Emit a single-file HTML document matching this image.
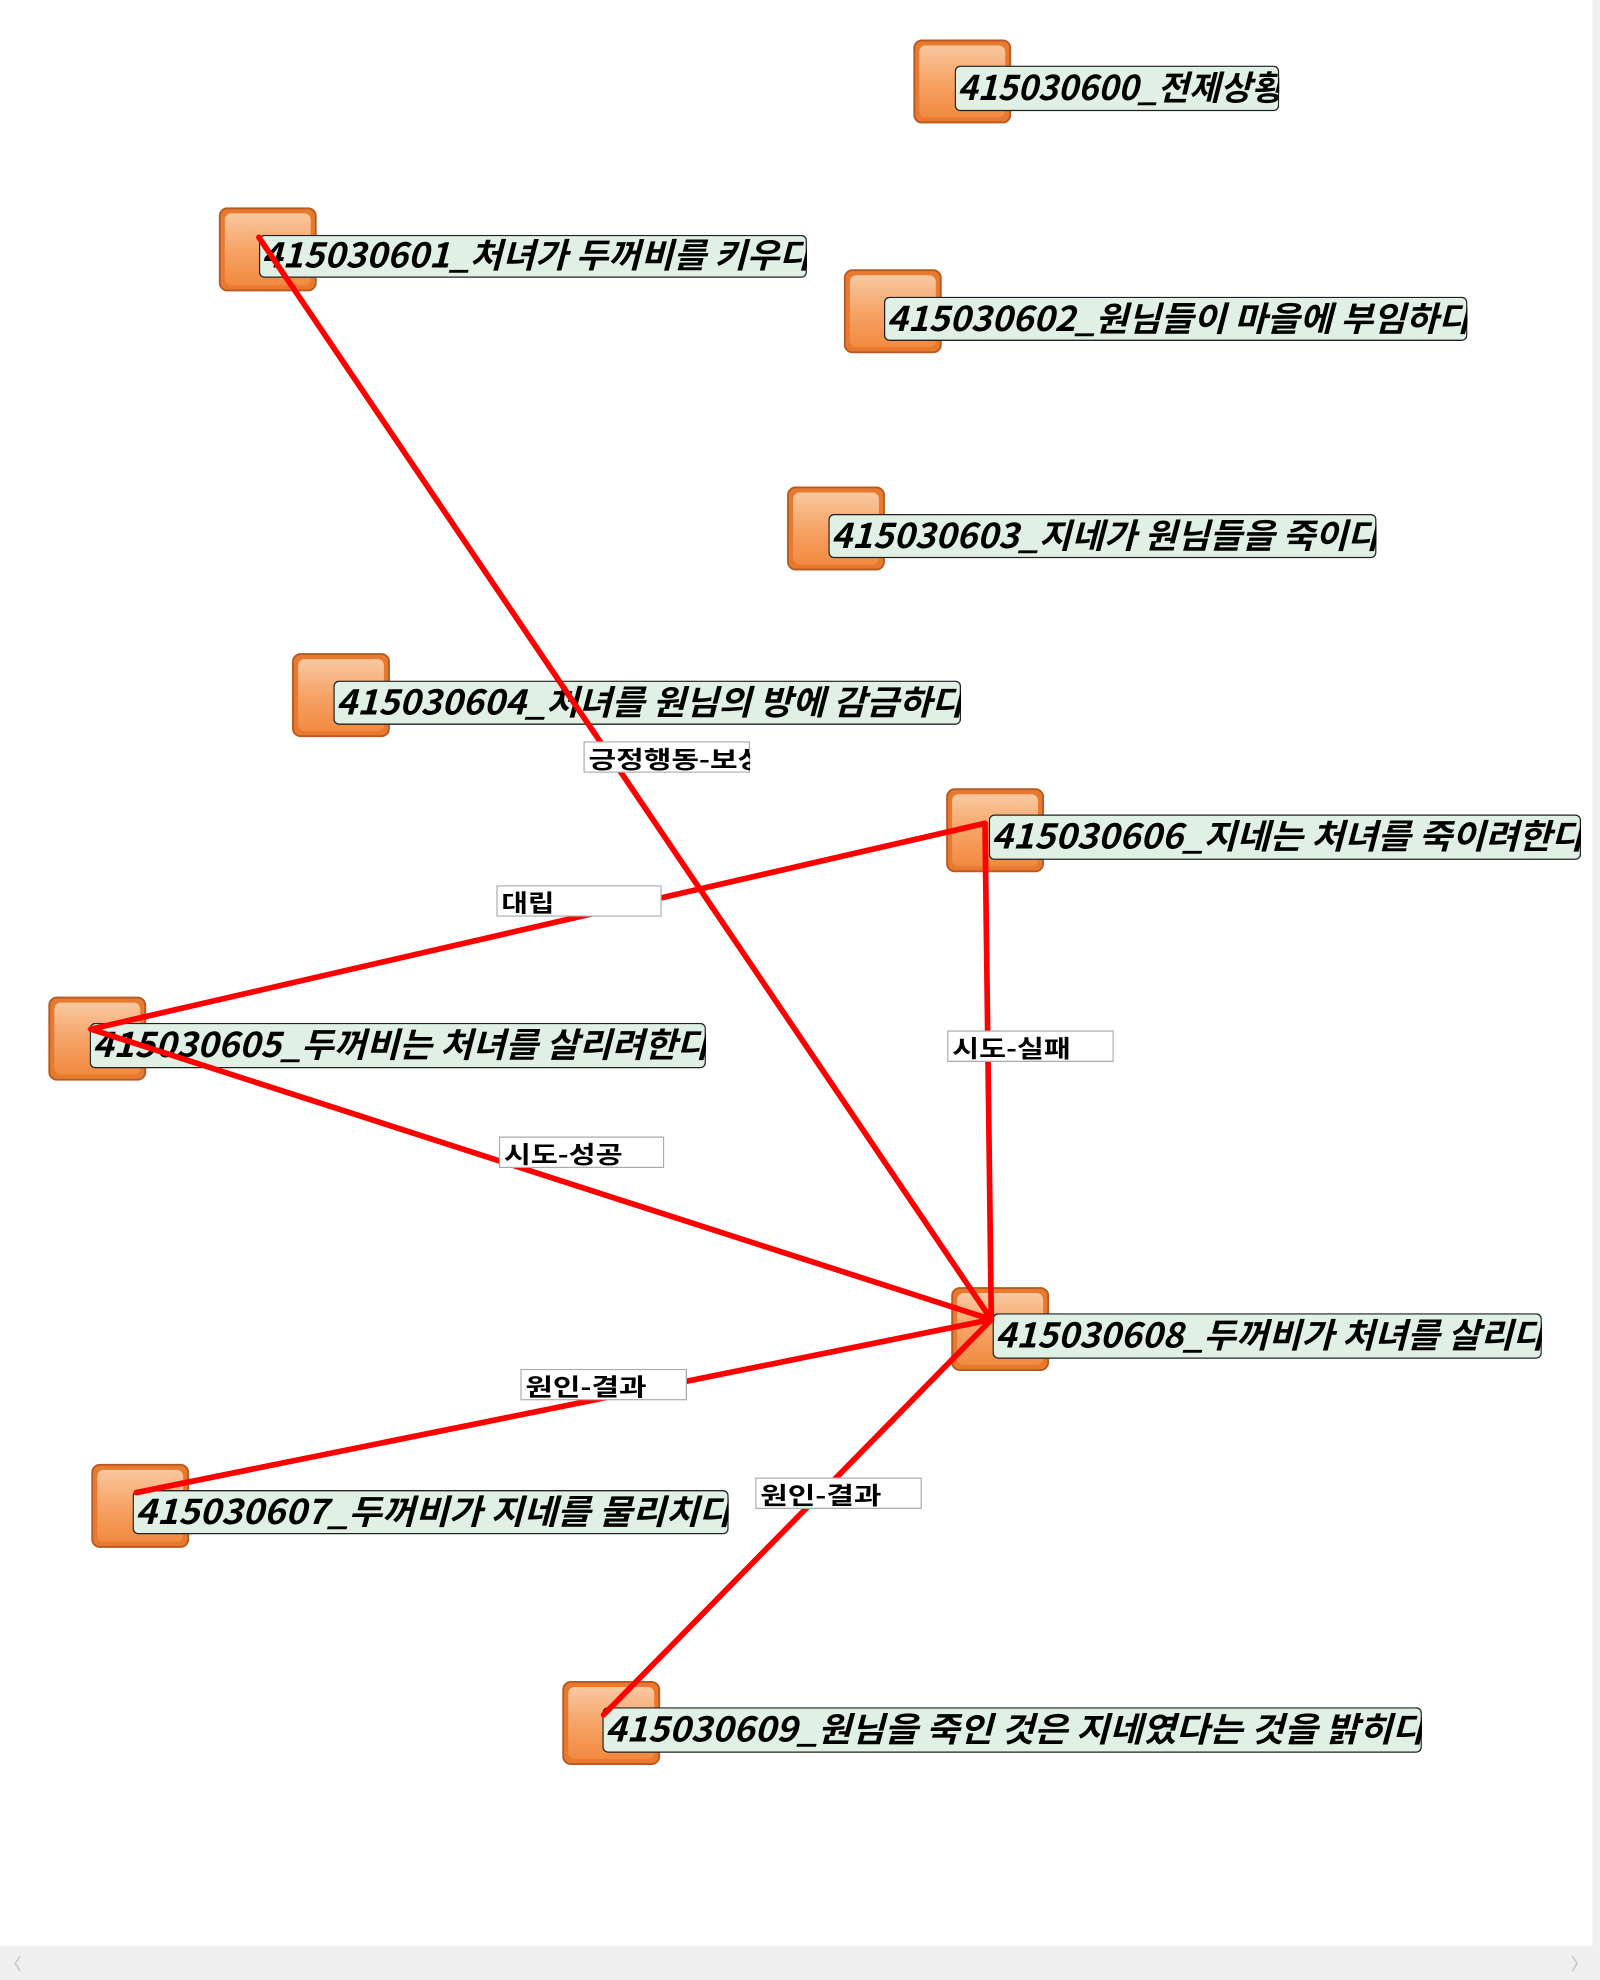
<!DOCTYPE html>
<html><head><meta charset="utf-8"><style>
html,body{margin:0;padding:0;background:#fff;width:1600px;height:1980px;overflow:hidden}
svg{display:block}
.nt{font-family:"Noto Sans CJK KR","Liberation Sans",sans-serif;font-weight:bold;font-style:italic;font-size:27px;fill:#000}
.et{font-family:"Noto Sans CJK KR","Liberation Sans",sans-serif;font-weight:bold;font-size:19px;fill:#000}
</style></head><body>
<svg width="1600" height="1980" viewBox="0 0 1267 1568" xmlns="http://www.w3.org/2000/svg">
<defs>
<linearGradient id="og" x1="0" y1="0" x2="0" y2="1">
<stop offset="0" stop-color="#f8c8a0"/><stop offset="0.5" stop-color="#f6a468"/><stop offset="1" stop-color="#f28a40"/>
</linearGradient>
<symbol id="ic" viewBox="0 0 78 67">
<rect x="1" y="1" width="76" height="65" rx="6" fill="#e87a30" stroke="#b85a20" stroke-width="1.5"/>
<rect x="5" y="5" width="68" height="57" rx="5" fill="url(#og)"/>
</symbol>
</defs>
<rect x="0" y="0" width="1267" height="1568" fill="#fff"/>
<use href="#ic" x="723" y="31" width="78" height="67"/>
<use href="#ic" x="173" y="164" width="78" height="67"/>
<use href="#ic" x="668" y="213" width="78" height="67"/>
<use href="#ic" x="623" y="385" width="78" height="67"/>
<use href="#ic" x="231" y="517" width="78" height="67"/>
<use href="#ic" x="749" y="624" width="78" height="67"/>
<use href="#ic" x="38" y="789" width="78" height="67"/>
<use href="#ic" x="753" y="1019" width="78" height="67"/>
<use href="#ic" x="72" y="1159" width="78" height="67"/>
<use href="#ic" x="445" y="1331" width="78" height="67"/>
<g>
<svg x="756" y="52" width="257" height="37"><rect x="0.5" y="0.5" width="256" height="35" rx="4" fill="#e0f0e4" stroke="#222"/><text class="nt" x="2" y="27" textLength="258" lengthAdjust="spacingAndGlyphs">415030600_전제상황</text></svg>
<svg x="205" y="186" width="434" height="35"><rect x="0.5" y="0.5" width="433" height="33" rx="4" fill="#e0f0e4" stroke="#222"/><text class="nt" x="2" y="26" textLength="436" lengthAdjust="spacingAndGlyphs">415030601_처녀가 두꺼비를 키우다</text></svg>
<svg x="700" y="235" width="462" height="36"><rect x="0.5" y="0.5" width="461" height="34" rx="4" fill="#e0f0e4" stroke="#222"/><text class="nt" x="2" y="27" textLength="463" lengthAdjust="spacingAndGlyphs">415030602_원님들이 마을에 부임하다</text></svg>
<svg x="656" y="407" width="434" height="36"><rect x="0.5" y="0.5" width="433" height="34" rx="4" fill="#e0f0e4" stroke="#222"/><text class="nt" x="2" y="27" textLength="435" lengthAdjust="spacingAndGlyphs">415030603_지네가 원님들을 죽이다</text></svg>
<svg x="264" y="539" width="497" height="36"><rect x="0.5" y="0.5" width="496" height="34" rx="4" fill="#e0f0e4" stroke="#222"/><text class="nt" x="2" y="27" textLength="498" lengthAdjust="spacingAndGlyphs">415030604_처녀를 원님의 방에 감금하다</text></svg>
<svg x="783" y="645" width="469" height="37"><rect x="0.5" y="0.5" width="468" height="35" rx="4" fill="#e0f0e4" stroke="#222"/><text class="nt" x="2" y="27" textLength="470" lengthAdjust="spacingAndGlyphs">415030606_지네는  처녀를 죽이려한다</text></svg>
<svg x="71" y="810" width="488" height="37"><rect x="0.5" y="0.5" width="487" height="35" rx="4" fill="#e0f0e4" stroke="#222"/><text class="nt" x="2" y="27" textLength="489" lengthAdjust="spacingAndGlyphs">415030605_두꺼비는 처녀를 살리려한다</text></svg>
<svg x="786" y="1040" width="435" height="37"><rect x="0.5" y="0.5" width="434" height="35" rx="4" fill="#e0f0e4" stroke="#222"/><text class="nt" x="2" y="27" textLength="436" lengthAdjust="spacingAndGlyphs">415030608_두꺼비가 처녀를 살리다</text></svg>
<svg x="105" y="1180" width="472" height="36"><rect x="0.5" y="0.5" width="471" height="34" rx="4" fill="#e0f0e4" stroke="#222"/><text class="nt" x="2" y="27" textLength="473" lengthAdjust="spacingAndGlyphs">415030607_두꺼비가  지네를 물리치다</text></svg>
<svg x="477" y="1352" width="649" height="37"><rect x="0.5" y="0.5" width="648" height="35" rx="4" fill="#e0f0e4" stroke="#222"/><text class="nt" x="2" y="27" textLength="650" lengthAdjust="spacingAndGlyphs">415030609_원님을 죽인 것은 지네였다는 것을 밝히다</text></svg>
</g>
<g stroke="#ff0000" stroke-width="4.5" stroke-linecap="round" fill="none">
<line x1="205" y1="188" x2="785" y2="1045"/>
<line x1="780" y1="652" x2="72" y2="815"/>
<line x1="780" y1="652" x2="785" y2="1045"/>
<line x1="72" y1="815" x2="785" y2="1045"/>
<line x1="108" y1="1182" x2="785" y2="1045"/>
<line x1="478" y1="1358" x2="785" y2="1045"/>
</g>
<g>
<svg x="462" y="587" width="132" height="25"><rect x="0.5" y="0.5" width="131" height="24" fill="#fff" stroke="#aaa"/><text class="et" x="4" y="21" textLength="140" lengthAdjust="spacingAndGlyphs">긍정행동-보상</text></svg>
<svg x="393" y="701" width="131" height="25"><rect x="0.5" y="0.5" width="130" height="24" fill="#fff" stroke="#aaa"/><text class="et" x="4" y="21" textLength="42" lengthAdjust="spacingAndGlyphs">대립</text></svg>
<svg x="750" y="816" width="132" height="25"><rect x="0.5" y="0.5" width="131" height="24" fill="#fff" stroke="#aaa"/><text class="et" x="4" y="21" textLength="94" lengthAdjust="spacingAndGlyphs">시도-실패</text></svg>
<svg x="395" y="900" width="131" height="25"><rect x="0.5" y="0.5" width="130" height="24" fill="#fff" stroke="#aaa"/><text class="et" x="4" y="21" textLength="94" lengthAdjust="spacingAndGlyphs">시도-성공</text></svg>
<svg x="412" y="1084" width="132" height="25"><rect x="0.5" y="0.5" width="131" height="24" fill="#fff" stroke="#aaa"/><text class="et" x="4" y="21" textLength="96" lengthAdjust="spacingAndGlyphs">원인-결과</text></svg>
<svg x="598" y="1170" width="132" height="25"><rect x="0.5" y="0.5" width="131" height="24" fill="#fff" stroke="#aaa"/><text class="et" x="4" y="21" textLength="96" lengthAdjust="spacingAndGlyphs">원인-결과</text></svg>
</g>
<rect x="1261" y="0" width="6" height="1541" fill="#f0f0f0"/>
<rect x="0" y="1541" width="1267" height="27" fill="#efefef"/>
<polyline points="16,1549 12,1555 16,1561" fill="none" stroke="#c8c8c8" stroke-width="1.2"/>
<polyline points="1245,1549 1249,1555 1245,1561" fill="none" stroke="#c8c8c8" stroke-width="1.2"/>
</svg>
</body></html>
